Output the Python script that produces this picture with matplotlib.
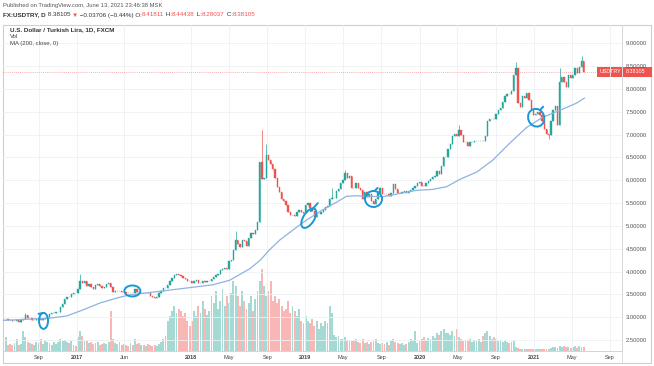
import matplotlib
matplotlib.use("Agg")
import matplotlib.pyplot as plt
import matplotlib.dates as mdates
from matplotlib.patches import Ellipse, Rectangle
from matplotlib.lines import Line2D
from matplotlib.transforms import ScaledTranslation
import numpy as np
import pandas as pd

plt.rcParams['font.family'] = ['Liberation Sans', 'DejaVu Sans']

W, H = 654, 366

# ---------------- data (weekly closes, Fridays) ----------------
week_first = '2016-05-13'
week_last = '2021-06-11'

close_2016 = [2.96, 2.97, 2.95,
              2.93, 2.91, 2.92, 2.94,
              2.89, 2.93, 2.96, 3.04, 2.99,
              2.99, 2.95, 2.95, 2.97,
              2.97, 2.94, 2.96, 2.98, 3.00,
              3.06, 3.09, 3.10, 3.11,
              3.12, 3.22, 3.29, 3.40,
              3.45, 3.44, 3.50, 3.54, 3.52]
close_2017 = [3.62, 3.80, 3.75, 3.80,
              3.68, 3.72, 3.66, 3.62,
              3.70, 3.73, 3.68, 3.64, 3.66,
              3.73, 3.74, 3.66, 3.55,
              3.57, 3.58, 3.58, 3.55,
              3.55, 3.53, 3.52, 3.54, 3.53,
              3.62, 3.56, 3.53, 3.53,
              3.52, 3.54, 3.52, 3.46,
              3.44, 3.42, 3.44, 3.53, 3.57,
              3.65, 3.63, 3.70, 3.80,
              3.85, 3.93, 3.95, 3.93,
              3.90, 3.86, 3.83, 3.80, 3.79]
close_2018 = [3.76, 3.79, 3.81, 3.75,
              3.75, 3.79, 3.77, 3.79,
              3.80, 3.83, 3.88, 3.93, 3.95,
              4.04, 4.05, 4.08, 4.06,
              4.23, 4.26, 4.48, 4.70,
              4.60, 4.53, 4.70, 4.66, 4.57,
              4.73, 4.84, 4.82, 4.92,
              5.08, 6.40, 6.02, 6.05, 6.55,
              6.45, 6.35, 6.25, 6.05,
              5.85, 5.75, 5.60, 5.55,
              5.45, 5.30, 5.25, 5.25, 5.22,
              5.30, 5.35, 5.30, 5.28]
close_2019 = [5.45, 5.50, 5.40, 5.33,
              5.19, 5.27, 5.27, 5.30,
              5.35, 5.41, 5.44, 5.60, 5.62,
              5.62, 5.76, 5.80, 5.95,
              6.00, 6.15, 6.05, 6.10, 5.83,
              5.82, 5.95, 5.83, 5.78,
              5.60, 5.75, 5.64, 5.70,
              5.55, 5.49, 5.58, 5.72, 5.82,
              5.71, 5.69, 5.71, 5.65,
              5.73, 5.92, 5.80, 5.73,
              5.73, 5.75, 5.76, 5.73, 5.76,
              5.78, 5.82, 5.88, 5.94]
close_2020 = [5.96, 5.88, 5.87, 5.93, 5.99,
              6.02, 6.07, 6.09, 6.20,
              6.13, 6.32, 6.50, 6.50,
              6.68, 6.80, 6.96, 7.02,
              6.97, 7.10, 6.99, 6.84, 6.84,
              6.75, 6.83, 6.84, 6.85,
              6.85, 6.86, 6.86, 6.85, 6.97,
              7.30, 7.35, 7.35, 7.34,
              7.45, 7.55, 7.58, 7.72,
              7.85, 7.90, 7.88, 7.95, 8.30,
              8.45, 7.70, 7.60, 7.85,
              7.80, 7.92, 7.75, 7.56]
close_2021 = [7.43, 7.45, 7.50, 7.42, 7.30,
              7.12, 7.02, 7.00, 7.30,
              7.55, 7.62, 7.22, 8.15,
              8.27, 8.15, 8.05, 8.30, 8.25,
              8.30, 8.45, 8.36, 8.48,
              8.62, 8.38]

vol_2016 = [8, 14, 6, 7, 6, 8, 12, 6, 7, 20, 14, 9, 8, 7, 6, 9, 8, 12, 7, 10, 9,
            8, 6, 9, 7, 9, 12, 10, 11, 9, 8, 10, 6, 5]
vol_2017 = [14, 20, 15, 11, 10, 8, 9, 7, 8, 9, 6, 7, 8, 7, 9, 40, 12, 8, 7, 9, 6,
            7, 6, 5, 8, 6, 12, 7, 8, 6, 6, 5, 7, 6, 5, 6, 5, 7, 9,
            12, 15, 30, 35, 40, 45, 38, 42, 40, 35, 38, 30, 25]
vol_2018 = [30, 40, 35, 45, 38, 50, 42, 36, 40, 55, 48, 60, 42, 50, 62, 45, 55,
            48, 58, 70, 65, 55, 45, 60, 50, 42, 48, 55, 40, 52, 60, 70, 82, 65, 55,
            60, 70, 50, 55, 48, 52, 45, 40, 42, 50, 38, 45, 40, 35, 42, 30, 28]
vol_2019 = [35, 30, 28, 32, 25, 30, 22, 28, 25, 30, 28, 45, 38, 16, 14, 15, 12,
            12, 14, 11, 10, 10, 10, 12, 9, 8, 12, 8, 9, 7, 9, 10, 12, 8, 7,
            8, 7, 9, 6, 10, 12, 9, 8, 7, 8, 6, 7, 9, 12, 10, 20, 8]
vol_2020 = [10, 12, 14, 11, 13, 12, 15, 13, 18, 16, 20, 22, 18, 18, 16, 20, 15,
            22, 14, 12, 10, 11, 10, 12, 9, 11, 10, 12, 9, 15, 18, 20, 15, 12, 14,
            12, 10, 11, 9, 10, 9, 8, 9, 10, 4, 3, 2, 2, 2, 2, 2, 2]
vol_2021 = [2, 2, 2, 2, 2, 2, 2, 2, 3, 4, 4, 3, 5, 4, 5, 4, 4, 3, 4, 5, 3, 5, 4, 4]

wick_highs = {'2016-07-22': 3.09, '2017-01-13': 3.95, '2018-05-25': 4.88,
              '2018-08-17': 7.10, '2018-08-31': 6.80, '2019-03-29': 5.83,
              '2019-05-10': 6.22, '2020-05-08': 7.22, '2020-11-06': 8.58,
              '2021-03-26': 8.45, '2021-06-04': 8.73}
wick_lows = {'2021-02-19': 6.90}

ma_dates = ['2016-05-09', '2016-10-07', '2016-11-30', '2017-01-20', '2017-03-15',
            '2017-05-08', '2017-06-18', '2017-09-01', '2017-12-18', '2018-03-11',
            '2018-05-04', '2018-07-07', '2018-08-10', '2018-09-09', '2018-10-11',
            '2018-12-04', '2019-01-05', '2019-02-25', '2019-04-11', '2019-05-13',
            '2019-06-14', '2019-07-16', '2019-09-05', '2019-10-30', '2019-12-23',
            '2020-02-12', '2020-03-28', '2020-05-09', '2020-07-02', '2020-08-22',
            '2020-10-15', '2020-12-09', '2021-01-29', '2021-03-24', '2021-05-17',
            '2021-06-11']
ma_values = [2.93, 2.98, 3.03, 3.16, 3.31, 3.42, 3.49, 3.55, 3.64, 3.71, 3.81,
             4.06, 4.25, 4.48, 4.69, 4.97, 5.13, 5.35, 5.52, 5.65, 5.66, 5.65,
             5.64, 5.71, 5.78, 5.80, 5.86, 6.02, 6.18, 6.44, 6.81, 7.16, 7.38,
             7.53, 7.69, 7.80]

price_ticks = [2.5, 3.0, 3.5, 4.0, 4.5, 5.0, 5.5, 6.0, 6.5, 7.0, 7.5, 8.0, 8.5, 9.0]
time_tick_dates = ['2016-09-01', '2017-01-01', '2017-06-01', '2018-01-01', '2018-05-01',
                   '2018-09-01', '2019-01-01', '2019-05-01', '2019-09-01', '2020-01-01',
                   '2020-05-01', '2020-09-01', '2021-01-01', '2021-05-01', '2021-09-01']
time_tick_labels = ['Sep', '2017', 'Jun', '2018', 'May', 'Sep', '2019', 'May', 'Sep',
                    '2020', 'May', 'Sep', '2021', 'May', 'Sep']

last_price = 8.38105
circle_marks = [('2016-09-16', 2.92, 9, 16, 0), ('2017-06-27', 3.575, 16, 11, 0),
                ('2019-01-12', 5.17, 22, 11, 58), ('2019-08-07', 5.59, 17, 16, 0),
                ('2021-01-08', 7.37, 16, 18, 20)]

# ---------------- build ----------------
weeks = pd.date_range(week_first, week_last, freq='W-FRI')
closes = np.array(close_2016 + close_2017 + close_2018 + close_2019 + close_2020 + close_2021)
vols = np.array(vol_2016 + vol_2017 + vol_2018 + vol_2019 + vol_2020 + vol_2021, dtype=float)
assert len(closes) == len(weeks), (len(closes), len(weeks))
assert len(vols) == len(weeks), (len(vols), len(weeks))

opens = np.concatenate([[closes[0]], closes[:-1]])
highs = np.maximum(opens, closes)
lows = np.minimum(opens, closes)
for i, d in enumerate(weeks):
    k = d.strftime('%Y-%m-%d')
    if k in wick_highs:
        highs[i] = wick_highs[k]
    if k in wick_lows:
        lows[i] = wick_lows[k]
xs = mdates.date2num(weeks - pd.Timedelta(days=2))

UP, DOWN = '#26a69a', '#ef5350'
up = closes >= opens
cols = np.where(up, UP, DOWN)

fig = plt.figure(figsize=(W / 100, H / 100), dpi=100)
fig.patch.set_facecolor('white')

rect = [3 / W, (H - 351) / H, 619 / W, 326 / H]
d17 = mdates.date2num(pd.Timestamp('2017-01-01'))
px_per_day = 0.3128
xlim = (d17 + (3 - 77) / px_per_day, d17 + (622 - 77) / px_per_day)
ylim = (2.260, 9.401)

ax_vol = fig.add_axes(rect, zorder=0)
ax_vol.set_xlim(*xlim)
ax_vol.set_ylim(0, 326)
ax_vol.axis('off')
vol_cols = [(0.149, 0.651, 0.604, 0.42) if u else (0.937, 0.325, 0.314, 0.42) for u in up]
ax_vol.bar(xs, vols, width=6.0, color=vol_cols, linewidth=0)

ax = fig.add_axes(rect, zorder=1)
ax.patch.set_visible(False)
ax.set_xlim(*xlim)
ax.set_ylim(*ylim)
ax.set_axisbelow(True)

# grid
ax.set_xticks(mdates.date2num(pd.to_datetime(time_tick_dates)))
ax.set_xticklabels(time_tick_labels)
ax.set_yticks(price_ticks)
ax.set_yticklabels([f'{v:.5f}' for v in price_ticks])
ax.yaxis.tick_right()
ax.grid(True, color='#eef0f3', lw=0.6)
ax.tick_params(axis='x', length=0, pad=3.0, labelsize=4.0, colors='#444444')
ax.tick_params(axis='y', length=0, pad=3.0, labelsize=4.2, colors='#555555')
for lab in ax.get_xticklabels():
    if lab.get_text().isdigit():
        lab.set_fontweight('bold')
for sp in ax.spines.values():
    sp.set_color('#d4d4d4')
    sp.set_linewidth(0.7)
ax.spines['top'].set_visible(False)
ax.spines['left'].set_visible(False)

# candles
ax.vlines(xs, lows, highs, colors=cols, lw=0.5, zorder=3)
ax.bar(xs, closes - opens, bottom=opens, width=4.2, color=cols, edgecolor=cols,
       linewidth=0.3, zorder=4)

# moving average
ax.plot(mdates.date2num(pd.to_datetime(ma_dates)), ma_values, color='#8db3e2', lw=0.9, zorder=5)

# last price line
ax.axhline(last_price, color='#ef5350', lw=0.6, ls=(0, (1, 1.5)), alpha=0.6, zorder=2)

# hand-drawn circles
BLUE = '#1898d5'
for d, p, w, h, ang in circle_marks:
    tr = fig.dpi_scale_trans + ScaledTranslation(mdates.date2num(pd.Timestamp(d)), p, ax.transData)
    ax.add_patch(Ellipse((0, 0), w / 100, h / 100, angle=ang, fill=False, ec=BLUE, lw=1.4,
                         transform=tr, zorder=6, clip_on=False))
tails = [((-0.05, 0.07), (0.0, 0.08)), None, ((0.02, 0.07), (0.09, 0.15)),
         ((0.01, 0.08), (0.04, 0.11)), ((0.04, 0.08), (0.07, 0.11))]
for (d, p, w, h, ang), t in zip(circle_marks, tails):
    if t is None:
        continue
    tr = fig.dpi_scale_trans + ScaledTranslation(mdates.date2num(pd.Timestamp(d)), p, ax.transData)
    ax.add_line(Line2D([t[0][0], t[1][0]], [t[0][1], t[1][1]], color=BLUE, lw=1.4,
                       transform=tr, zorder=6, solid_capstyle='round'))

# outer frame and separators
fig.add_artist(Rectangle((3 / W, (H - 363) / H), 648 / W, 338 / H, transform=fig.transFigure,
                         fill=False, ec='#cfcfcf', lw=0.8))
fig.add_artist(Line2D([622 / W, 622 / W], [(H - 363) / H, (H - 25) / H], transform=fig.transFigure,
                      color='#d8d8d8', lw=0.6))

# price label
fig.canvas.draw()
ly = ax.transData.transform((xlim[0], last_price))[1]
fig.add_artist(Rectangle((597 / W, (ly - 5) / H), 55 / W, 10 / H, transform=fig.transFigure,
                         fc='#ef5350', ec='none'))
fig.text(600 / W, ly / H, 'USDTRY', color='white', fontsize=3.9, va='center', ha='left')
fig.text(626 / W, ly / H, f'{last_price:.5f}', color='white', fontsize=3.9, va='center', ha='left')

# header texts
def fy(y):
    return 1 - y / H

fig.text(3 / W, fy(5.5), 'Published on TradingView.com, June 13, 2021 23:46:38 MSK',
         fontsize=4.2, color='#555555', va='center', ha='left')

renderer = fig.canvas.get_renderer()
pieces = [('FX:USDTRY, D', '#333333', 'bold'), (' 8.38105 ', '#333333', 'normal'),
          ('▼', '#ef5350', 'normal'), (' \u22120.03706 (\u22120.44%) O:', '#333333', 'normal'),
          ('8.41811', '#ef5350', 'normal'), (' H:', '#333333', 'normal'),
          ('8.44438', '#ef5350', 'normal'), (' L:', '#333333', 'normal'),
          ('8.28037', '#ef5350', 'normal'), (' C:', '#333333', 'normal'),
          ('8.38105', '#ef5350', 'normal')]
xpx = 3.0
for s, c, wgt in pieces:
    t = fig.text(xpx / W, fy(15), s, fontsize=4.5, color=c, fontweight=wgt, va='center', ha='left')
    bb = t.get_window_extent(renderer=renderer)
    xpx += bb.width

fig.text(10 / W, fy(29.5), 'U.S. Dollar / Turkish Lira, 1D, FXCM', fontsize=4.5,
         color='#333333', fontweight='bold', va='center', ha='left')
fig.text(10 / W, fy(37), 'Vol', fontsize=4.3, color='#444444', va='center', ha='left')
fig.text(10 / W, fy(44), 'MA (200, close, 0)', fontsize=4.3, color='#444444', va='center', ha='left')

fig.savefig('out.png', dpi=100, facecolor='white')
